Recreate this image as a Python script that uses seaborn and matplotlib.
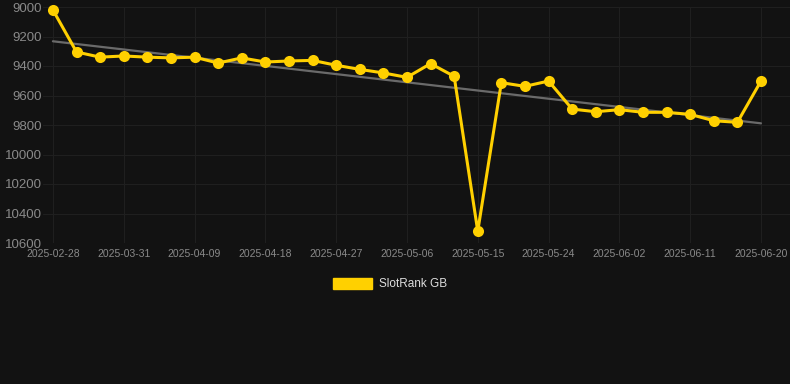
import numpy as np
import pandas as pd
import seaborn as sns
import matplotlib.pyplot as plt
from matplotlib.patches import Patch

# data
dates = ['2025-02-28', '2025-03-25', '2025-03-28', '2025-03-31', '2025-04-03', '2025-04-06',
         '2025-04-09', '2025-04-12', '2025-04-15', '2025-04-18', '2025-04-21', '2025-04-24',
         '2025-04-27', '2025-04-30', '2025-05-03', '2025-05-06', '2025-05-09', '2025-05-12',
         '2025-05-15', '2025-05-18', '2025-05-21', '2025-05-24', '2025-05-27', '2025-05-30',
         '2025-06-02', '2025-06-05', '2025-06-08', '2025-06-11', '2025-06-14', '2025-06-17',
         '2025-06-20']
rank = [9020, 9305, 9340, 9332, 9340, 9345, 9340, 9380, 9345, 9373, 9366, 9362,
        9395, 9423, 9447, 9477, 9384, 9470, 10520, 9513, 9538, 9502, 9692, 9710,
        9696, 9714, 9714, 9728, 9771, 9782, 9502]
series_name = 'SlotRank GB'

df = pd.DataFrame({'date': dates, 'rank': rank})
df['pos'] = np.arange(len(df))

bg = '#121212'
gold = '#FFD000'

sns.set_style('dark')
plt.rcParams['font.family'] = ['Liberation Sans', 'DejaVu Sans']

fig = plt.figure(figsize=(7.9, 3.84), dpi=100, facecolor=bg)
ax = fig.add_axes([43 / 790, 1 - 243 / 384, 1 - 43 / 790, (243 - 7) / 384])
ax.set_facecolor(bg)

# trend line (least squares fit)
k, b = np.polyfit(df['pos'], df['rank'], 1)
df['trend'] = k * df['pos'] + b
sns.lineplot(data=df, x='pos', y='trend', ax=ax, color='#6a6a6a', lw=1.6, zorder=2)

sns.lineplot(data=df, x='pos', y='rank', ax=ax, color=gold, lw=2.2, marker='o',
             markersize=8, markeredgewidth=0, zorder=3, clip_on=False)

ax.set_ylim(10600, 9000)
ax.set_xlim(-0.42, len(df) - 1 + 1.23)
ax.set_yticks(range(9000, 10601, 200))
ax.set_xticks(df['pos'][::3])
ax.set_xticklabels(df['date'][::3])
ax.tick_params(axis='y', colors='#8a8a8a', labelsize=9.5, length=0, pad=0.5)
ax.tick_params(axis='x', colors='#8a8a8a', labelsize=7.5, length=0, pad=4)
ax.grid(True, color='#1f1f1f', lw=0.8)
for s in ax.spines.values():
    s.set_visible(False)
ax.set_xlabel('')
ax.set_ylabel('')

fig.legend(handles=[Patch(facecolor=gold, edgecolor=gold)], labels=[series_name],
           loc='center', bbox_to_anchor=(390 / 790, 1 - 284 / 384), frameon=False,
           handlelength=3.3, handleheight=1.1, handletextpad=0.6,
           labelcolor='#dddddd', fontsize=8.5)

fig.savefig('out.png', facecolor=bg)
